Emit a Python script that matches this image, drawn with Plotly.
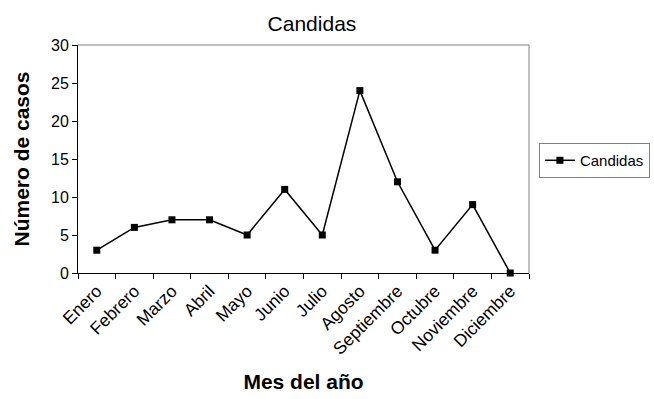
import plotly.graph_objects as go

# Casos mensuales de Candidas
meses = ["Enero", "Febrero", "Marzo", "Abril", "Mayo", "Junio", "Julio",
         "Agosto", "Septiembre", "Octubre", "Noviembre", "Diciembre"]
casos = [3, 6, 7, 7, 5, 11, 5, 24, 12, 3, 9, 0]
y_ticks = [0, 5, 10, 15, 20, 25, 30]

FONT = "Liberation Sans, Arial, sans-serif"

fig = go.Figure()
fig.add_trace(go.Scatter(
    x=meses, y=casos, name="Candidas", mode="lines+markers",
    line=dict(color="black", width=1.5),
    marker=dict(symbol="square", size=7, color="black"),
    cliponaxis=False,
))

fig.update_layout(
    width=654, height=399,
    margin=dict(l=78, r=125, t=45, b=126, autoexpand=False),
    paper_bgcolor="white", plot_bgcolor="white",
    font=dict(family=FONT, color="black", size=16),
    title=dict(text="Candidas", x=0.477, xref="container", xanchor="center",
               y=0.94, yref="container", yanchor="middle",
               font=dict(size=21, family=FONT, color="black")),
    showlegend=True,
    legend=dict(x=1.022, xanchor="left", y=0.57, yanchor="top",
                bordercolor="#808080", borderwidth=1, bgcolor="white",
                font=dict(size=15, family=FONT, color="black"),
                itemwidth=30, tracegroupgap=0),
    xaxis=dict(
        type="category", categoryorder="array", categoryarray=meses,
        range=[-0.5, len(meses) - 0.5], autorange=False, automargin=False,
        showline=True, linecolor="black", linewidth=1,
        ticks="outside", ticklen=5, tickcolor="black", tickson="boundaries",
        tickangle=-45, showgrid=False, zeroline=False,
        tickfont=dict(size=17.5, family=FONT, color="black"),
        title=dict(text="<b>Mes del año</b>", standoff=16,
                   font=dict(size=21, family=FONT, color="black")),
    ),
    yaxis=dict(
        range=[0, 30], tickvals=y_ticks, automargin=False,
        showline=True, linecolor="black", linewidth=1,
        ticks="outside", ticklen=5, tickcolor="black",
        showgrid=False, zeroline=False,
        tickfont=dict(size=16, family=FONT, color="black"),
        title=dict(text="<b>Número de casos</b>", standoff=15,
                   font=dict(size=21, family=FONT, color="black")),
    ),
)

# Top and right edges of the plot frame in gray
fig.add_shape(type="line", xref="x domain", yref="y domain",
              x0=0, x1=1, y0=1, y1=1, line=dict(color="#808080", width=1))
fig.add_shape(type="line", xref="x domain", yref="y domain",
              x0=1, x1=1, y0=0, y1=1, line=dict(color="#808080", width=1))

fig.write_html("out.html")
